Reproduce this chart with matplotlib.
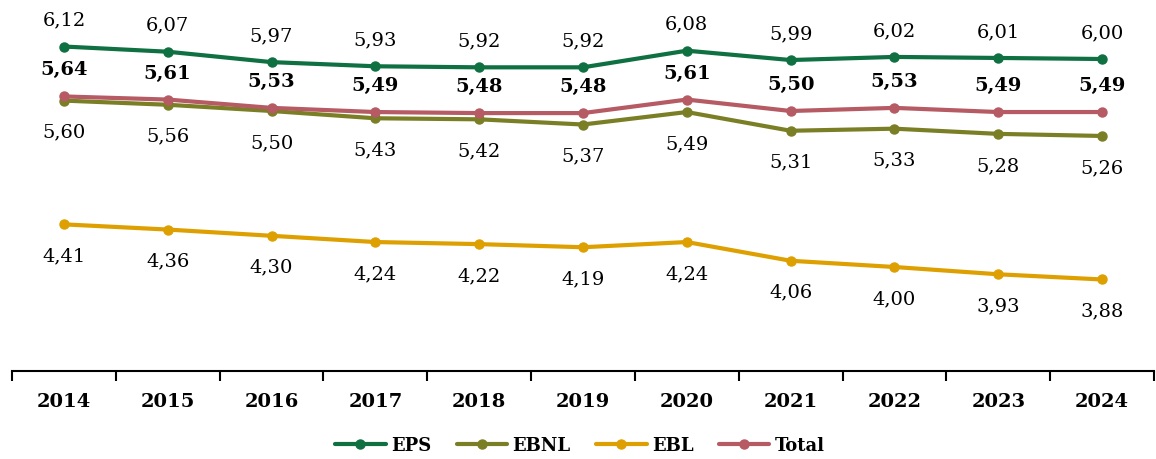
import matplotlib
matplotlib.use('Agg')
import matplotlib.pyplot as plt
import numpy as np

years = ['2014', '2015', '2016', '2017', '2018', '2019', '2020', '2021', '2022', '2023', '2024']
eps = [6.12, 6.07, 5.97, 5.93, 5.92, 5.92, 6.08, 5.99, 6.02, 6.01, 6.00]
ebnl = [5.60, 5.56, 5.50, 5.43, 5.42, 5.37, 5.49, 5.31, 5.33, 5.28, 5.26]
ebl = [4.41, 4.36, 4.30, 4.24, 4.22, 4.19, 4.24, 4.06, 4.00, 3.93, 3.88]
total = [5.64, 5.61, 5.53, 5.49, 5.48, 5.48, 5.61, 5.50, 5.53, 5.49, 5.49]

plt.rcParams['font.family'] = ['DejaVu Serif']

W, H = 1156, 460
fig = plt.figure(figsize=(W / 100, H / 100), dpi=100)
ax = fig.add_axes([12 / W, (H - 372) / H, (1154 - 12) / W, (372 - 8) / H])

x = np.arange(len(years))

def fmt(v):
    return ('%.2f' % v).replace('.', ',')

series = [
    ('EPS', eps, '#0F7042', 'above', 'normal', 5),
    ('EBNL', ebnl, '#7A7F26', 'below', 'normal', 2),
    ('EBL', ebl, '#DDA000', 'below', 'normal', 3),
    ('Total', total, '#B65A64', 'above', 'bold', 4),
]

for name, vals, col, pos, weight, z in series:
    ax.plot(x, vals, color=col, lw=3, marker='o', markersize=6.5, label=name,
            zorder=z, solid_capstyle='round')
    for xi, v in zip(x, vals):
        off = 27 if pos == 'above' else -31
        ax.annotate(fmt(v), (xi, v), xytext=(0, off), textcoords='offset pixels',
                    ha='center', va='center', fontsize=14, fontweight=weight,
                    color='black')

ax.set_xlim(-0.5, len(years) - 0.5)
ax.set_ylim(3.0, 6.5)

for s in ['top', 'right', 'left']:
    ax.spines[s].set_visible(False)
ax.spines['bottom'].set_linewidth(1.5)
ax.set_yticks([])

ax.set_xticks(x)
ax.set_xticklabels(years, fontsize=14, fontweight='bold')
ax.tick_params(axis='x', which='major', length=0, pad=15)
ax.set_xticks(np.arange(-0.5, len(years)), minor=True)
ax.tick_params(axis='x', which='minor', length=7, width=1.5, direction='out')

leg = fig.legend(loc='center', bbox_to_anchor=(580 / W, 1 - 446 / H), ncol=4,
                 frameon=False, prop={'weight': 'bold', 'size': 13},
                 handlelength=2.8, columnspacing=1.4, handletextpad=0.3)

fig.savefig('out.png', dpi=100)
